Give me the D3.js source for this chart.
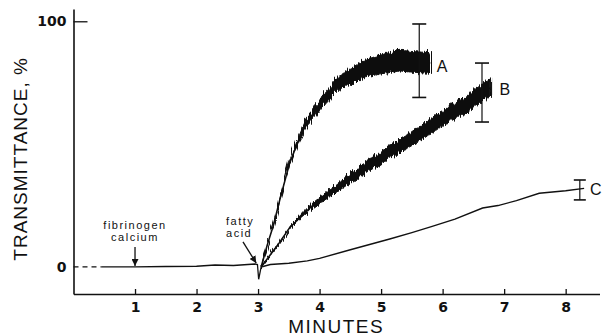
<!DOCTYPE html>
<html>
<head>
<meta charset="utf-8">
<script src="https://cdn.jsdelivr.net/npm/d3@7"></script>
<style>
  body { margin: 0; background: #fff; }
  svg { display: block; }
</style>
</head>
<body>
<svg id="chart"></svg>
<script>
// trace before the additions (common to all three runs)
const leadMinutes = [0.0, 0.45];
const leadValues = [0, 0];
const baseMinutes = [0.45, 1.0, 1.5, 2.0, 2.3, 2.6, 2.95, 2.99, 3.01, 3.05];
const baseValues = [0, 0, 0.2, 0.3, 0.8, 0.6, 1.2, 1.0, -5, 0];

// curve A (mean and half-width of the noise band)
const aMinutes = [3.05, 3.15, 3.25, 3.35, 3.51, 3.65, 3.78, 3.95, 4.11, 4.32, 4.5, 4.76, 5.0, 5.3, 5.5, 5.8];
const aValues = [0, 9, 17, 27, 42, 51, 58.5, 64, 69, 75, 77.5, 81, 82.5, 84, 83.5, 83];
const aSpread = [0, 0.3, 0.3, 0.5, 1.0, 1.3, 1.6, 2.0, 2.3, 2.7, 3.2, 3.6, 3.9, 4.2, 4.2, 4.2];

// curve B
const bMinutes = [3.05, 3.2, 3.35, 3.51, 3.84, 4.16, 4.49, 4.81, 5.14, 5.46, 5.79, 6.11, 6.44, 6.71, 6.78];
const bValues = [0, 5, 10, 15.9, 24, 30, 36, 41.5, 46.7, 51.6, 57, 62.6, 66.7, 72, 73];
const bSpread = [0, 0.3, 0.3, 0.4, 1.0, 1.5, 1.9, 2.3, 2.6, 2.8, 3.1, 3.2, 3.4, 3.6, 3.6];

// curve C
const cMinutes = [3.05, 3.2, 3.5, 3.8, 4.0, 4.5, 5.14, 5.5, 5.83, 6.2, 6.65, 6.9, 7.2, 7.57, 8.0, 8.3];
const cValues = [0, 1, 1.5, 2.5, 3.5, 7, 11.4, 14, 16.5, 19.5, 24, 25, 27, 30, 31, 32];

// error bars
const errLabels = ["A", "B", "C"];
const errMinutes = [5.62, 6.64, 8.23];
const errLow = [69, 59, 27.3];
const errHigh = [98.9, 83, 35.4];
const labelMinutes = [5.99, 7.01, 8.49];
const labelValues = [81.8, 72.4, 31.7];

// axes
const xTicks = [1, 2, 3, 4, 5, 6, 7, 8];
const yTicks = [0, 100];

// annotations: text lines and arrows (minutes, %)
const noteText = ["fibrinogen", "calcium", "fatty", "acid"];
const noteMinutes = [1.0, 1.0, 2.48, 2.48];
const noteValues = [15.6, 10.6, 17.2, 12.2];
const noteAnchor = ["middle", "middle", "start", "start"];
const arrowFrom = [[1.0, 8.1], [2.755, 10.2]];
const arrowTo = [[1.0, 0.4], [2.97, 1.6]];

const width = 602, height = 336;
const svg = d3.select("#chart").attr("width", width).attr("height", height);

const x = d3.scaleLinear().domain([0, 8.55]).range([73.5, 599.5]);
const y = d3.scaleLinear().domain([-11, 105]).range([294, 9]);

const ink = "#111";

const defs = svg.append("defs");
defs.append("marker")
  .attr("id", "head")
  .attr("viewBox", "0 0 10 10")
  .attr("refX", 10).attr("refY", 5)
  .attr("markerWidth", 7).attr("markerHeight", 7)
  .attr("markerUnits", "userSpaceOnUse")
  .attr("orient", "auto")
  .append("path")
  .attr("d", "M0,0L10,5L0,10Z")
  .attr("fill", ink);

// jagged recorder-pen look for the noisy traces
const rough = defs.append("filter")
  .attr("id", "rough")
  .attr("x", "-5%").attr("y", "-10%").attr("width", "110%").attr("height", "120%");
rough.append("feTurbulence")
  .attr("type", "fractalNoise")
  .attr("baseFrequency", "0.7 0.015")
  .attr("numOctaves", 1)
  .attr("seed", 3)
  .attr("result", "noise");
rough.append("feDisplacementMap")
  .attr("in", "SourceGraphic").attr("in2", "noise")
  .attr("scale", 9)
  .attr("xChannelSelector", "R").attr("yChannelSelector", "G");

// x axis
const xAxis = svg.append("g")
  .attr("transform", `translate(0,${y(-11)})`)
  .call(d3.axisBottom(x).tickValues(xTicks).tickSizeInner(-5).tickSizeOuter(0).tickPadding(8));
xAxis.select(".domain").attr("stroke", ink).attr("stroke-width", 1.6);
xAxis.selectAll(".tick line").attr("stroke", ink).attr("stroke-width", 1.3);
xAxis.selectAll("text")
  .attr("fill", ink)
  .style("font-family", "DejaVu Sans")
  .style("font-weight", "bold")
  .style("font-size", "14px");

// y axis
const yAxis = svg.append("g")
  .attr("transform", `translate(${x(0)},0)`)
  .call(d3.axisLeft(y).tickValues(yTicks).tickSizeInner(-14).tickSizeOuter(0).tickPadding(7));
yAxis.select(".domain").attr("stroke", ink).attr("stroke-width", 1.6);
yAxis.selectAll(".tick line").attr("stroke", ink).attr("stroke-width", 1.3)
  .filter(d => d === 0).remove();
yAxis.selectAll("text")
  .attr("fill", ink)
  .style("font-family", "DejaVu Sans")
  .style("font-weight", "bold")
  .style("font-size", "14px");

// axis titles
svg.append("text")
  .attr("x", x(4.27)).attr("y", 333)
  .attr("text-anchor", "middle")
  .attr("fill", ink)
  .style("font-family", "Liberation Sans")
  .style("font-size", "19px")
  .style("letter-spacing", "1.5px")
  .text("MINUTES");

svg.append("text")
  .attr("transform", `translate(27,${y(44)}) rotate(-90)`)
  .attr("text-anchor", "middle")
  .attr("fill", ink)
  .style("font-family", "Liberation Sans")
  .style("font-size", "19px")
  .style("letter-spacing", "1px")
  .text("TRANSMITTANCE, %");

// traces
const line = d3.line().x(d => x(d[0])).y(d => y(d[1]));
const band = d3.area().x(d => x(d[0])).y0(d => y(d[1] - d[2])).y1(d => y(d[1] + d[2]));

svg.append("path")
  .attr("d", line(d3.zip(leadMinutes, leadValues)))
  .attr("fill", "none").attr("stroke", ink).attr("stroke-width", 1.3)
  .attr("stroke-dasharray", "5,4");

svg.append("path")
  .attr("d", line(d3.zip(baseMinutes, baseValues)))
  .attr("fill", "none").attr("stroke", ink).attr("stroke-width", 1.3);

[[aMinutes, aValues, aSpread], [bMinutes, bValues, bSpread]].forEach(s => {
  const g = svg.append("g");
  g.append("path")
    .attr("d", line(d3.zip(s[0], s[1])))
    .attr("fill", "none").attr("stroke", ink).attr("stroke-width", 1.6);
  g.append("path")
    .attr("d", band(d3.zip(s[0], s[1], s[2])))
    .attr("fill", ink).attr("stroke", ink).attr("stroke-width", 1)
    .attr("stroke-linejoin", "round")
    .attr("filter", "url(#rough)");
});

svg.append("path")
  .attr("d", line(d3.zip(cMinutes, cValues)))
  .attr("fill", "none").attr("stroke", ink).attr("stroke-width", 1.4);

// error bars
errLabels.forEach((lab, i) => {
  const g = svg.append("g").attr("stroke", ink).attr("stroke-width", 1.2);
  const cap = i === 2 ? 6 : 7;
  g.append("line")
    .attr("x1", x(errMinutes[i])).attr("x2", x(errMinutes[i]))
    .attr("y1", y(errLow[i])).attr("y2", y(errHigh[i]));
  [errLow[i], errHigh[i]].forEach(v => {
    g.append("line")
      .attr("x1", x(errMinutes[i]) - cap).attr("x2", x(errMinutes[i]) + cap)
      .attr("y1", y(v)).attr("y2", y(v))
      .attr("stroke-width", 1.6);
  });
  svg.append("text")
    .attr("x", x(labelMinutes[i])).attr("y", y(labelValues[i]))
    .attr("text-anchor", "middle")
    .attr("dominant-baseline", "central")
    .attr("fill", ink)
    .style("font-family", "Liberation Sans")
    .style("font-size", "16px")
    .text(lab);
});

// annotations
noteText.forEach((t, i) => {
  svg.append("text")
    .attr("x", x(noteMinutes[i])).attr("y", y(noteValues[i]))
    .attr("text-anchor", noteAnchor[i])
    .attr("fill", ink)
    .style("font-family", "Liberation Sans")
    .style("font-size", "11px")
    .style("letter-spacing", "1.5px")
    .text(t);
});

arrowFrom.forEach((f, i) => {
  svg.append("line")
    .attr("x1", x(f[0])).attr("y1", y(f[1]))
    .attr("x2", x(arrowTo[i][0])).attr("y2", y(arrowTo[i][1]))
    .attr("stroke", ink).attr("stroke-width", 1.3)
    .attr("marker-end", "url(#head)");
});
</script>
</body>
</html>
